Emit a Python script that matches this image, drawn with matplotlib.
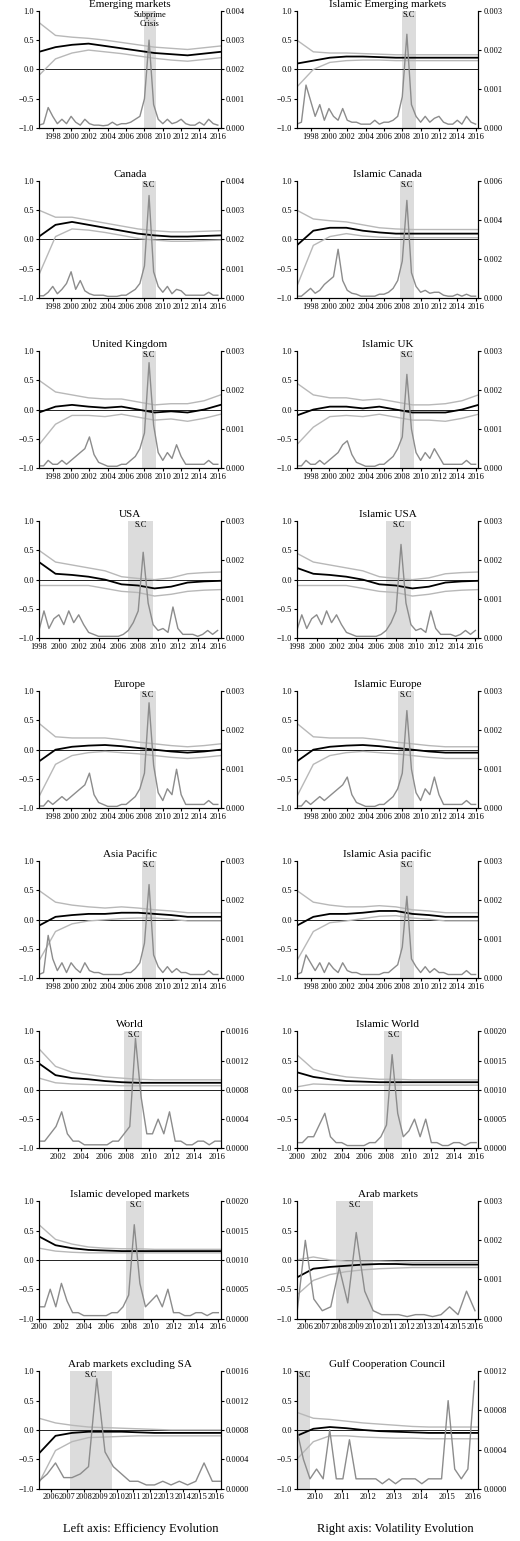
import numpy as np
import matplotlib.pyplot as plt

plt.rcParams["font.family"] = ["Liberation Serif", "DejaVu Serif"]
plt.rcParams["font.size"] = 7

# {{{ panel data: efficiency (left axis) and volatility (right axis, 1e-4 units)
titles = ["Emerging markets", "Islamic Emerging markets", "Canada", "Islamic Canada",
          "United Kingdom", "Islamic UK", "USA", "Islamic USA", "Europe", "Islamic Europe",
          "Asia Pacific", "Islamic Asia pacific", "World", "Islamic World",
          "Islamic developed markets", "Arab markets", "Arab markets excluding SA",
          "Gulf Cooperation Council"]
x_start = [1996.5, 1996.5, 1996.5, 1996.5, 1996.5, 1996.5, 1998.0, 1998.0, 1996.5, 1996.5,
           1996.5, 1996.5, 2000.3, 2000.0, 2000.0, 2005.5, 2005.3, 2009.3]
x_end = [2016.3] * 12 + [2016.3, 2016.2, 2016.2, 2016.2, 2016.3, 2016.2]
vol_step = [0.5] * 17 + [0.25]
vol_max = [40, 30, 40, 60, 30, 30, 30, 30, 30, 30, 30, 30, 16, 20, 20, 30, 16, 12]
shade = [(2007.9, 2009.3), (2008.0, 2009.5), (2007.7, 2009.3), (2007.7, 2009.3),
         (2007.7, 2009.3), (2007.7, 2009.3), (2007.0, 2009.5), (2007.0, 2009.5),
         (2007.5, 2009.3), (2007.5, 2009.3), (2007.7, 2009.3), (2007.7, 2009.3),
         (2007.8, 2009.4), (2007.8, 2009.4), (2007.8, 2009.4), (2007.8, 2010.0),
         (2007.2, 2009.7), (2009.3, 2009.8)]

eff = [
    [0.3, 0.38, 0.42, 0.44, 0.4, 0.36, 0.32, 0.28, 0.26, 0.24, 0.27, 0.3],
    [0.1, 0.15, 0.2, 0.22, 0.22, 0.21, 0.2, 0.2, 0.2, 0.2, 0.2, 0.2],
    [0.05, 0.25, 0.3, 0.25, 0.2, 0.15, 0.1, 0.07, 0.05, 0.05, 0.06, 0.07],
    [-0.1, 0.15, 0.2, 0.2, 0.15, 0.12, 0.1, 0.1, 0.1, 0.1, 0.1, 0.1],
    [-0.05, 0.05, 0.08, 0.05, 0.03, 0.05, 0.0, -0.05, -0.03, -0.05, 0.0, 0.08],
    [-0.1, 0.0, 0.05, 0.05, 0.02, 0.05, 0.0, -0.05, -0.05, -0.05, 0.0, 0.08],
    [0.3, 0.1, 0.08, 0.05, 0.0, -0.08, -0.1, -0.15, -0.12, -0.05, -0.03, -0.02],
    [0.2, 0.1, 0.08, 0.05, 0.0, -0.08, -0.1, -0.15, -0.12, -0.05, -0.03, -0.02],
    [-0.2, 0.0, 0.05, 0.07, 0.08, 0.06, 0.03, 0.0, -0.03, -0.05, -0.03, 0.0],
    [-0.2, 0.0, 0.05, 0.07, 0.08, 0.06, 0.03, 0.0, -0.03, -0.05, -0.05, -0.05],
    [-0.1, 0.05, 0.08, 0.1, 0.1, 0.12, 0.12, 0.1, 0.08, 0.05, 0.05, 0.05],
    [-0.1, 0.05, 0.1, 0.1, 0.12, 0.15, 0.15, 0.1, 0.08, 0.05, 0.05, 0.05],
    [0.45, 0.25, 0.2, 0.18, 0.15, 0.13, 0.12, 0.12, 0.12, 0.12, 0.12, 0.12],
    [0.3, 0.22, 0.18, 0.15, 0.14, 0.13, 0.13, 0.13, 0.13, 0.13, 0.13, 0.13],
    [0.4, 0.25, 0.2, 0.17, 0.16, 0.15, 0.15, 0.15, 0.15, 0.15, 0.15, 0.15],
    [-0.3, -0.15, -0.12, -0.1, -0.08, -0.07, -0.07, -0.08, -0.08, -0.08, -0.08, -0.08],
    [-0.4, -0.1, -0.05, -0.03, -0.03, -0.03, -0.04, -0.05, -0.05, -0.05, -0.05, -0.05],
    [-0.1, 0.02, 0.05, 0.03, 0.0, -0.02, -0.03, -0.04, -0.05, -0.05, -0.05, -0.05],
]
eff_up = [
    [0.8, 0.58, 0.55, 0.53, 0.5, 0.46, 0.42, 0.38, 0.36, 0.34, 0.37, 0.4],
    [0.5, 0.3, 0.28, 0.28, 0.27, 0.26, 0.25, 0.25, 0.25, 0.25, 0.25, 0.25],
    [0.5, 0.38, 0.38, 0.33, 0.28, 0.23, 0.18, 0.15, 0.13, 0.13, 0.14, 0.15],
    [0.5, 0.35, 0.32, 0.3, 0.25, 0.2, 0.18, 0.17, 0.17, 0.17, 0.17, 0.17],
    [0.5, 0.3, 0.25, 0.2, 0.18, 0.18, 0.13, 0.08, 0.1, 0.1, 0.15, 0.25],
    [0.45, 0.25, 0.2, 0.2, 0.16, 0.18, 0.13, 0.08, 0.08, 0.1, 0.15, 0.25],
    [0.5, 0.3, 0.25, 0.2, 0.15, 0.05, 0.02, 0.0, 0.03, 0.1, 0.12, 0.13],
    [0.45, 0.3, 0.25, 0.2, 0.15, 0.05, 0.02, 0.0, 0.03, 0.1, 0.12, 0.13],
    [0.45, 0.22, 0.2, 0.2, 0.2, 0.17, 0.13, 0.1, 0.07, 0.05, 0.07, 0.1],
    [0.45, 0.22, 0.2, 0.2, 0.2, 0.17, 0.13, 0.1, 0.07, 0.05, 0.05, 0.05],
    [0.5, 0.3, 0.25, 0.22, 0.2, 0.22, 0.2, 0.17, 0.15, 0.12, 0.12, 0.12],
    [0.5, 0.3, 0.25, 0.22, 0.22, 0.24, 0.22, 0.17, 0.15, 0.12, 0.12, 0.12],
    [0.7, 0.4, 0.3, 0.26, 0.22, 0.2, 0.18, 0.17, 0.17, 0.17, 0.17, 0.17],
    [0.6, 0.35, 0.27, 0.22, 0.2, 0.18, 0.18, 0.17, 0.17, 0.17, 0.17, 0.17],
    [0.6, 0.35, 0.27, 0.22, 0.2, 0.19, 0.19, 0.18, 0.18, 0.18, 0.18, 0.18],
    [0.0, 0.05, 0.0, -0.02, -0.02, -0.02, -0.03, -0.04, -0.04, -0.04, -0.04, -0.04],
    [0.2, 0.12, 0.08, 0.05, 0.04, 0.03, 0.02, 0.01, 0.0, 0.0, 0.0, 0.0],
    [0.3, 0.2, 0.18, 0.15, 0.12, 0.1, 0.08, 0.06, 0.05, 0.05, 0.05, 0.05],
]
eff_lo = [
    [-0.1, 0.18, 0.28, 0.33, 0.3, 0.27, 0.23, 0.19, 0.16, 0.14, 0.17, 0.2],
    [-0.3, 0.0, 0.12, 0.15, 0.16, 0.16, 0.15, 0.15, 0.15, 0.15, 0.15, 0.15],
    [-0.6, 0.05, 0.18, 0.16, 0.12, 0.07, 0.02, -0.01, -0.03, -0.03, -0.02, -0.01],
    [-0.8, -0.1, 0.05, 0.1, 0.06, 0.04, 0.03, 0.03, 0.03, 0.03, 0.03, 0.03],
    [-0.6, -0.25, -0.1, -0.1, -0.12, -0.08, -0.13, -0.18, -0.16, -0.2, -0.15, -0.08],
    [-0.6, -0.3, -0.12, -0.1, -0.12, -0.08, -0.13, -0.18, -0.18, -0.2, -0.15, -0.08],
    [-0.1, -0.1, -0.1, -0.1, -0.15, -0.2, -0.22, -0.28, -0.25, -0.2, -0.18, -0.17],
    [-0.1, -0.1, -0.1, -0.1, -0.15, -0.2, -0.22, -0.28, -0.25, -0.2, -0.18, -0.17],
    [-0.8, -0.25, -0.1, -0.05, -0.03, -0.05, -0.07, -0.1, -0.13, -0.15, -0.13, -0.1],
    [-0.8, -0.25, -0.1, -0.05, -0.03, -0.05, -0.07, -0.1, -0.13, -0.15, -0.15, -0.15],
    [-0.7, -0.2, -0.07, -0.02, 0.0, 0.02, 0.03, 0.03, 0.01, -0.02, -0.02, -0.02],
    [-0.7, -0.2, -0.05, -0.02, 0.02, 0.06, 0.07, 0.03, 0.01, -0.02, -0.02, -0.02],
    [0.2, 0.12, 0.1, 0.09, 0.08, 0.07, 0.07, 0.07, 0.07, 0.07, 0.07, 0.07],
    [0.05, 0.1, 0.09, 0.08, 0.08, 0.08, 0.08, 0.08, 0.08, 0.08, 0.08, 0.08],
    [0.2, 0.15, 0.13, 0.12, 0.12, 0.12, 0.12, 0.12, 0.12, 0.12, 0.12, 0.12],
    [-0.6, -0.35, -0.25, -0.2, -0.17, -0.15, -0.14, -0.13, -0.13, -0.13, -0.13, -0.13],
    [-0.9, -0.35, -0.2, -0.13, -0.12, -0.11, -0.1, -0.1, -0.1, -0.1, -0.1, -0.1],
    [-0.5, -0.2, -0.1, -0.1, -0.12, -0.13, -0.14, -0.14, -0.15, -0.15, -0.15, -0.15],
]
vol = [
    [1, 1.5, 7, 4, 1.5, 3, 1.5, 4, 2, 1, 3, 1.5, 1, 1, 0.8, 1, 2, 1, 1.5, 1.5, 2, 3, 4, 10, 30, 8, 3, 1.5, 3, 1.5, 2, 3, 1.5, 1, 1, 2, 1, 3, 1.5, 1],
    [1, 1.5, 11, 7, 3, 6, 2, 5, 3, 2, 5, 2, 1.5, 1.5, 1, 1, 1, 2, 1, 1.5, 1.5, 2, 3, 8, 24, 6, 3, 1.5, 3, 1.5, 2.5, 3, 1.5, 1, 1, 2, 1, 3, 1.5, 1],
    [0.8, 0.8, 2, 4, 1.5, 3, 5, 9, 3, 6, 2.5, 1.5, 1, 1, 1, 0.6, 0.6, 0.6, 1, 1, 2, 3, 5, 11, 35, 9, 4, 2, 4, 1.5, 3, 2.5, 1, 1, 1, 1, 1, 2, 1, 1],
    [1, 1, 3, 5, 2.5, 4, 7, 9, 11, 25, 9, 4, 2.5, 2, 1, 1, 1, 1, 2, 2, 3, 5, 9, 19, 50, 13, 6, 3, 4, 2.5, 3, 3, 1.5, 1, 1, 2, 1, 2, 1, 1],
    [0.6, 0.6, 2, 1, 1, 2, 1, 2, 3, 4, 5, 8, 3.5, 1.5, 1, 0.5, 0.5, 0.5, 1, 1, 2, 3, 5, 9, 27, 11, 4, 2, 4, 2.5, 6, 3, 1, 1, 1, 1, 1, 2, 1, 1],
    [0.6, 0.6, 2, 1, 1, 2, 1, 2, 3, 4, 6, 7, 3.5, 1.5, 1, 0.5, 0.5, 0.5, 1, 1, 2, 3, 5, 8, 24, 10, 4, 2, 4, 2.5, 5, 3, 1, 1, 1, 1, 1, 2, 1, 1],
    [2, 7, 2.5, 5, 6, 3.5, 7, 4, 6, 3.5, 1.5, 1, 0.5, 0.5, 0.5, 0.5, 0.5, 1, 2, 4, 7, 22, 9, 3.5, 2, 2.5, 1.5, 8, 2.5, 1, 1, 1, 0.5, 1, 2, 1, 2],
    [2, 6, 2.5, 5, 6, 3.5, 7, 4, 6, 3.5, 1.5, 1, 0.5, 0.5, 0.5, 0.5, 0.5, 1, 2, 4, 7, 24, 9, 3.5, 2, 2.5, 1.5, 7, 2.5, 1, 1, 1, 0.5, 1, 2, 1, 2],
    [0.6, 0.6, 2, 1, 2, 3, 2, 3, 4, 5, 6, 9, 3.5, 1.5, 1, 0.5, 0.5, 0.5, 1, 1, 2, 3, 5, 9, 27, 11, 4, 2, 5, 3.5, 10, 3.5, 1, 1, 1, 1, 1, 2, 1, 1],
    [0.6, 0.6, 2, 1, 2, 3, 2, 3, 4, 5, 6, 8, 3.5, 1.5, 1, 0.5, 0.5, 0.5, 1, 1, 2, 3, 5, 9, 25, 10, 4, 2, 5, 3.5, 8, 3.5, 1, 1, 1, 1, 1, 2, 1, 1],
    [1, 1.5, 11, 5, 2, 4, 1.5, 4, 2.5, 1.5, 4, 2, 1.5, 1.5, 1, 1, 1, 1, 1, 1.5, 1.5, 2.5, 4, 9, 24, 6, 3, 1.5, 3, 1.5, 2.5, 1.5, 1.5, 1, 1, 1, 1, 2, 1, 1],
    [1, 1.5, 6, 4, 2, 4, 1.5, 4, 2.5, 1.5, 4, 2, 1.5, 1.5, 1, 1, 1, 1, 1, 1.5, 1.5, 2.5, 3.5, 8, 21, 5, 3, 1.5, 3, 1.5, 2.5, 1.5, 1.5, 1, 1, 1, 1, 2, 1, 1],
    [1, 1, 2, 3, 5, 2, 1, 1, 0.5, 0.5, 0.5, 0.5, 0.5, 1, 1, 2, 3, 15, 7, 2, 2, 4, 2, 5, 1, 1, 0.5, 0.5, 1, 1, 0.5, 1, 1],
    [1, 1, 2, 2, 4, 6, 2, 1, 1, 0.5, 0.5, 0.5, 0.5, 1, 1, 2, 4, 16, 6, 2, 3, 5, 2, 5, 1, 1, 0.5, 0.5, 1, 1, 0.5, 1, 1],
    [2, 2, 5, 2, 6, 3, 1, 1, 0.5, 0.5, 0.5, 0.5, 0.5, 1, 1, 2, 4, 16, 6, 2, 3, 4, 2, 5, 1, 1, 0.5, 0.5, 1, 1, 0.5, 1, 1],
    [1, 20, 5, 2, 3, 13, 4, 22, 7, 2, 1, 1, 1, 0.5, 1, 1, 0.5, 1, 3, 1, 7, 2],
    [1, 2, 3.5, 1.5, 1.5, 2, 3, 15, 5, 3, 2, 1, 1, 0.5, 0.5, 1, 0.5, 1, 0.5, 1, 3.5, 1, 1],
    [6, 3, 1, 2, 1, 6, 1, 1, 5, 1, 1, 1, 1, 0.5, 1, 0.5, 1, 1, 1, 0.5, 1, 1, 1, 9, 2, 1, 2, 11],
]
# }}}

fig, axes = plt.subplots(9, 2, figsize=(5.2, 15.41), dpi=100)
fig.subplots_adjust(left=0.075, right=0.92, top=0.993, bottom=0.034,
                    wspace=0.42, hspace=0.45)

for k, ax in enumerate(axes.flat):
    x0, x1 = x_start[k], x_end[k]
    ax.axvspan(*shade[k], color="#dcdcdc", lw=0, zorder=0)
    ax.axhline(0, color="black", lw=0.6)
    tx = np.linspace(x0, x1, len(eff[k]))
    ax.plot(tx, eff_up[k], color="#b8b8b8", lw=1)
    ax.plot(tx, eff_lo[k], color="#b8b8b8", lw=1)
    ax.plot(tx, eff[k], color="black", lw=1.3)
    ax.set_ylim(-1, 1)
    ax.set_yticks([-1, -0.5, 0, 0.5, 1])
    ax.set_yticklabels(["\u22121.0", "\u22120.5", "0.0", "0.5", "1.0"])
    ax.set_xlim(x0, x1)
    if x1 - x0 > 13:
        first = 1998 if x0 < 1998.5 else (2000 if x0 < 2000.2 else 2002)
        ax.set_xticks(range(first, 2017, 2))
    else:
        ax.set_xticks(range(int(np.ceil(x0)), 2017))
    ax.set_title(titles[k], fontsize=8, pad=3)
    ax.spines["top"].set_visible(False)
    ax.tick_params(length=2, pad=1.5, labelsize=6)

    ax2 = ax.twinx()
    tv = x0 + vol_step[k] * np.arange(len(vol[k]))
    ax2.plot(tv, np.array(vol[k]) * 1e-4, color="#8c8c8c", lw=1)
    ax2.set_ylim(0, vol_max[k] * 1e-4)
    if vol_max[k] in (40, 30):
        ticks = np.arange(0, vol_max[k] + 1, 10) * 1e-4
        fmt = "%.3f"
    elif vol_max[k] == 60:
        ticks = np.arange(0, 61, 20) * 1e-4
        fmt = "%.3f"
    elif vol_max[k] == 20:
        ticks = np.arange(0, 21, 5) * 1e-4
        fmt = "%.4f"
    else:
        ticks = np.arange(0, vol_max[k] + 1, 4) * 1e-4
        fmt = "%.4f"
    ax2.set_yticks(ticks)
    ax2.set_yticklabels([fmt % t for t in ticks])
    ax2.spines["top"].set_visible(False)
    ax2.tick_params(length=2, pad=1.5, labelsize=6)
    label = "Subprime\nCrisis" if k == 0 else "S.C"
    ax.text(sum(shade[k]) / 2 if k != 17 else x0 + 0.05, 0.93 if k else 0.85, label,
            ha="center" if k != 17 else "left", va="center", fontsize=6)

fig.text(0.27, 0.006, "Left axis: Efficiency Evolution", ha="center", fontsize=9)
fig.text(0.76, 0.006, "Right axis: Volatility Evolution", ha="center", fontsize=9)
fig.savefig("out.png", dpi=100)
